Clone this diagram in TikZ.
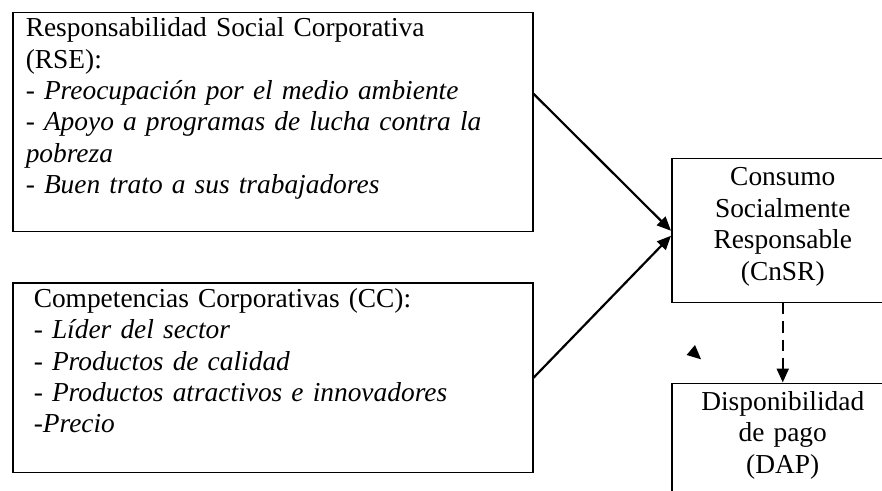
\documentclass[tikz,border=0pt]{standalone}
\usepackage{fontspec}
\setmainfont{Liberation Serif}
\usetikzlibrary{positioning,arrows.meta}

\begin{document}
\begin{tikzpicture}[ > = {Triangle[length=7pt, width=6pt]},
factor/.style={ rectangle, draw, line width = 0.75pt, align = left, inner ysep = 2.5pt, text height = 9.5pt, font = \fontsize{13.7pt}{15.7pt}\selectfont },
outcome/.style={ rectangle, draw, line width = 0.75pt, align = center, text width = 106pt, inner xsep = 2.5pt, inner ysep = 2.5pt, text height = 11pt, font = \fontsize{13.7pt}{15.8pt}\selectfont }]

\path [use as bounding box, clip] (0,0) rectangle (441pt,-245.5pt);

\node (rse) [factor, text width = 247pt, inner xsep = 6.5pt, text depth = 95pt, anchor = north west] at (6pt,-6pt) {Responsabilidad Social Corporativa\\(RSE):\\- \textit{Preocupación por el medio ambiente}\\- \textit{Apoyo a programas de lucha contra la}\\\textit{pobreza}\\- \textit{Buen trato a sus trabajadores}};

\node (cc) [factor, text width = 239pt, inner xsep = 10.5pt, text depth = 80pt, below = 25pt of rse] {Competencias Corporativas (CC):\\- \textit{Líder del sector}\\- \textit{Productos de calidad}\\- \textit{Productos atractivos e innovadores}\\-\textit{Precio}};

\node (cnsr) [outcome, text depth = 56pt, anchor = north west] at (335.5pt,-79pt) {Consumo\\Socialmente\\Responsable\\(CnSR)};
\node (dap) [outcome, text depth = 55.5pt, below = 39.5pt of cnsr] {Disponibilidad\\de pago\\(DAP)};

\draw [->, line width = 1.1pt] ([yshift = 14.25pt]rse.east) -- (cnsr.west);
\draw [->, line width = 1.1pt] (cc.east) -- ([yshift = -2.5pt]cnsr.west);
\draw [->, line width = 1.1pt, dash pattern = on 5.5pt off 3.5pt] (cnsr) -- (dap);

% stray arrow tip left over in the figure
\fill (347.5pt,-172.5pt) -- (343.3pt,-177.5pt) -- (350.5pt,-179.65pt) -- cycle;

\end{tikzpicture}
\end{document}
